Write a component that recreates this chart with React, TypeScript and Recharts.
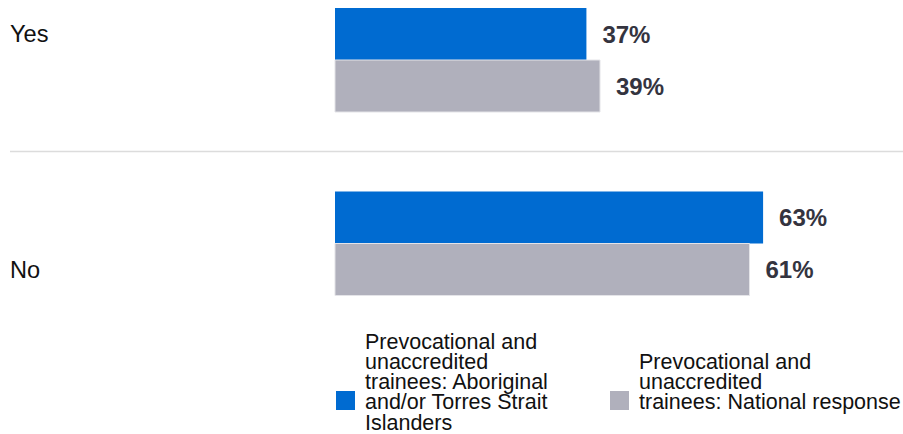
import * as React from "react";
import * as Recharts from "recharts";
import { BarChart, Bar, XAxis, YAxis, LabelList } from "recharts";

// ─── Data ─────────────────────────────────────────────────
const categories = ["Yes", "No"];
const aboriginalValues = [37, 63];
const nationalValues = [39, 61];

const seriesNames = [
  "Prevocational and\nunaccredited\ntrainees: Aboriginal\nand/or Torres Strait\nIslanders",
  "Prevocational and\nunaccredited\ntrainees: National response",
];

const data = categories.map((name, i) => ({
  name,
  aboriginal: aboriginalValues[i],
  national: nationalValues[i],
}));

// ─── Style ────────────────────────────────────────────────
const FONT = "'Liberation Sans', Arial, Helvetica, sans-serif";
const BLUE = "#006bd1";
const GREY = "#b0b0bc";
const LABEL = "#34343f";

const CHART_W = 903;
const CHART_H = 367;
const BAR_SIZE = 52;

// category label sits next to the first bar for "Yes", second bar for "No"
function CategoryTick(props: any) {
  const { y, payload, index } = props;
  const shift = (index === 0 ? -1 : 1) * (BAR_SIZE / 2);
  return (
    <text
      x={ 10 }
      y={ y + shift }
      dy="0.36em"
      textAnchor="start"
      fontFamily={ FONT }
      fontSize={ 23.6 }
      fill="#111"
    >
      { payload.value }
    </text>
  );
}

// divider between the two categories, full width
function Divider() {
  const R: any = Recharts;
  const offset = R.useOffset ? R.useOffset() : null;
  const width = R.useChartWidth ? R.useChartWidth() : CHART_W;
  const top = offset ? offset.top : 0;
  const bottom = offset ? offset.bottom : 0;
  const h = R.useChartHeight ? R.useChartHeight() : CHART_H;
  const y = top + (h - top - bottom) / 2;
  return <line x1={ 10 } x2={ width } y1={ y } y2={ y } stroke="#dcdcdc" strokeWidth={ 1.5 } />;
}

function LegendItem({ color, text, width }: { color: string; text: string; width?: number }) {
  return (
    <div style={ { display: "flex", alignItems: "center", width } }>
      <span
        style={ {
          width: 19,
          height: 19,
          background: color,
          flexShrink: 0,
          position: "relative",
          top: 18,
          marginRight: 10,
        } }
      />
      <span style={ { whiteSpace: "pre-line", fontSize: 21.5, lineHeight: "20.3px", color: "#111" } }>
        { text }
      </span>
    </div>
  );
}

const valueLabelStyle = { fontFamily: FONT, fontSize: 24, fontWeight: 700, fill: LABEL };

export default function App() {
  return (
    <div style={ { position: "absolute", left: 0, top: 0, width: CHART_W, height: 434, fontFamily: FONT } }>
      <div style={ { position: "absolute", left: 0, top: -32 } }>
        <BarChart
          width={ CHART_W }
          height={ CHART_H }
          data={ data }
          layout="vertical"
          margin={ { top: 0, right: 4, bottom: 0, left: 0 } }
          barGap={ 0 }
        >
          <XAxis type="number" domain={ [0, 83] } hide />
          <YAxis
            type="category"
            dataKey="name"
            width={ 335 }
            axisLine={ false }
            tickLine={ false }
            tick={ <CategoryTick /> }
          />
          <Divider />
          <Bar dataKey="aboriginal" name={ seriesNames[0] } fill={ BLUE } barSize={ BAR_SIZE } isAnimationActive={ false }>
            <LabelList
              dataKey="aboriginal"
              position="right"
              offset={ 16 }
              formatter={ (v: any) => `${v}%` }
              style={ valueLabelStyle }
            />
          </Bar>
          <Bar
            dataKey="national"
            name={ seriesNames[1] }
            fill={ GREY }
            stroke="#e4e4e8"
            strokeWidth={ 1 }
            barSize={ BAR_SIZE }
            isAnimationActive={ false }
          >
            <LabelList
              dataKey="national"
              position="right"
              offset={ 16 }
              formatter={ (v: any) => `${v}%` }
              style={ valueLabelStyle }
            />
          </Bar>
        </BarChart>
      </div>
      <div style={ { position: "absolute", left: 336, top: 331.5, height: 101.5, display: "flex", alignItems: "center" } }>
        <LegendItem color={ BLUE } text={ seriesNames[0] } width={ 274 } />
        <LegendItem color={ GREY } text={ seriesNames[1] } />
      </div>
    </div>
  );
}
